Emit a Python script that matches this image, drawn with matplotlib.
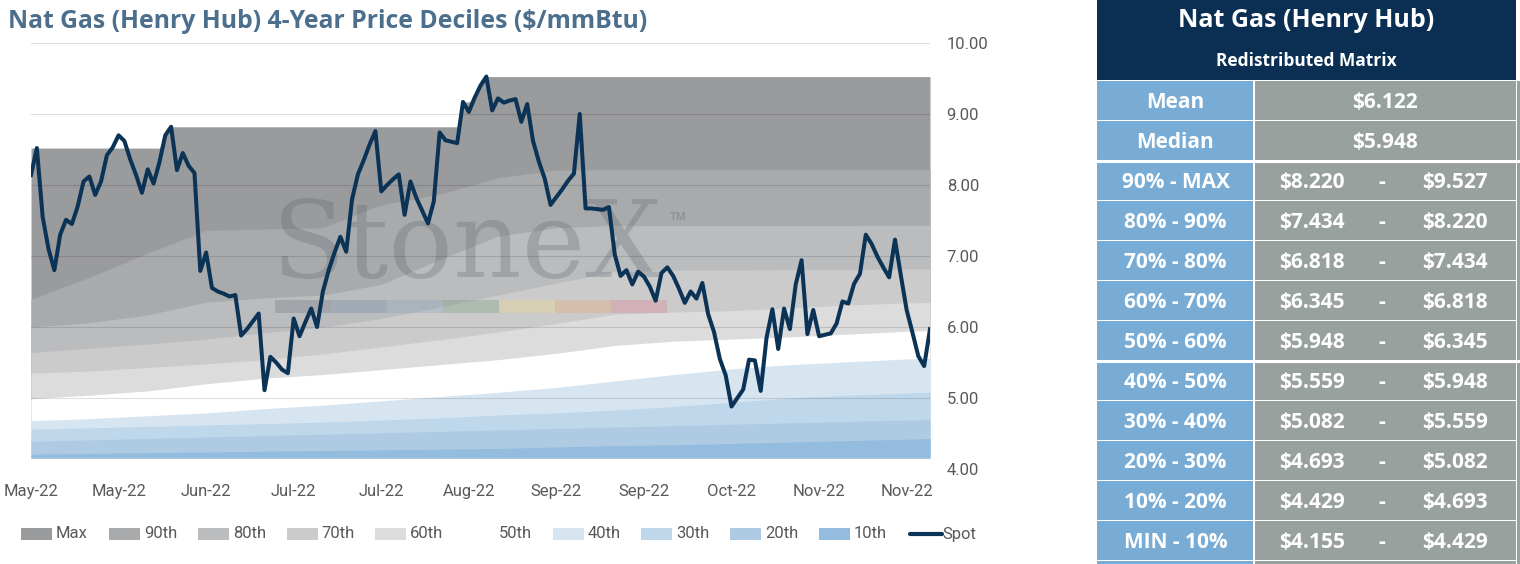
import matplotlib
matplotlib.use("Agg")
import matplotlib.pyplot as plt
import matplotlib.transforms as mtransforms
from matplotlib.lines import Line2D
from matplotlib.patches import Rectangle
import numpy as np

W, H = 1520, 564

# ---- data ----
spot = [
    8.14, 8.52, 7.55, 7.10, 6.80, 7.30, 7.51, 7.45, 7.70, 8.05,
    8.12, 7.86, 8.05, 8.42, 8.53, 8.70, 8.62, 8.36, 8.14, 7.89,
    8.22, 8.02, 8.32, 8.70, 8.82, 8.21, 8.45, 8.27, 8.17, 6.79,
    7.05, 6.55, 6.50, 6.47, 6.43, 6.45, 5.88, 5.97, 6.08, 6.19,
    5.11, 5.58, 5.50, 5.40, 5.35, 6.12, 5.87, 6.07, 6.26, 6.00,
    6.50, 6.80, 7.05, 7.27, 7.06, 7.80, 8.15, 8.35, 8.57, 8.76,
    7.91, 8.00, 8.08, 8.15, 7.58, 8.05, 7.82, 7.64, 7.46, 7.77,
    8.74, 8.63, 8.61, 8.59, 9.17, 9.03, 9.23, 9.40, 9.527, 9.05,
    9.22, 9.16, 9.19, 9.21, 8.89, 9.14, 8.62, 8.33, 8.09, 7.72,
    7.83, 7.94, 8.06, 8.16, 9.00, 7.67, 7.67, 7.66, 7.65, 7.69,
    7.02, 6.72, 6.80, 6.60, 6.78, 6.71, 6.57, 6.37, 6.76, 6.84,
    6.72, 6.54, 6.34, 6.50, 6.40, 6.62, 6.18, 5.93, 5.55, 5.32,
    4.88, 5.00, 5.12, 5.54, 5.53, 5.10, 5.85, 6.25, 5.69, 6.26,
    5.97, 6.60, 6.94, 5.90, 6.24, 5.87, 5.89, 5.91, 6.05, 6.36,
    6.33, 6.61, 6.75, 7.30, 7.17, 6.99, 6.84, 6.70, 7.23, 6.73,
    6.24, 5.92, 5.59, 5.45, 5.97,
]

# 4-year max (top of the Max band), one value per day
max_series = [8.52] * 23 + [8.70] + [8.82] * 50 + [9.17, 9.17, 9.23, 9.40] + [9.527] * 77
min_price = 4.155

# decile curves, sampled every 10 days
band_idx = [0, 10, 20, 30, 40, 50, 60, 70, 80, 90, 100, 110, 120, 130, 140, 150, 154]
p90 = [6.39, 6.70, 7.04, 7.36, 7.38, 7.40, 7.72, 7.87, 8.10, 8.21, 8.22, 8.22, 8.22, 8.22, 8.22, 8.22, 8.220]
p80 = [6.00, 6.06, 6.17, 6.35, 6.41, 6.45, 6.60, 6.95, 7.28, 7.40, 7.43, 7.43, 7.43, 7.43, 7.43, 7.434, 7.434]
p70 = [5.64, 5.70, 5.76, 5.83, 5.92, 6.00, 6.12, 6.28, 6.45, 6.62, 6.78, 6.80, 6.80, 6.81, 6.81, 6.818, 6.818]
p60 = [5.35, 5.38, 5.43, 5.48, 5.54, 5.62, 5.72, 5.82, 5.93, 6.05, 6.18, 6.21, 6.23, 6.27, 6.31, 6.34, 6.345]
p50 = [4.99, 5.04, 5.10, 5.20, 5.28, 5.33, 5.40, 5.47, 5.54, 5.63, 5.74, 5.80, 5.83, 5.86, 5.90, 5.94, 5.948]
p40 = [4.68, 4.71, 4.75, 4.79, 4.85, 4.90, 4.96, 5.02, 5.08, 5.15, 5.24, 5.33, 5.41, 5.47, 5.51, 5.55, 5.559]
p30 = [4.56, 4.58, 4.60, 4.62, 4.64, 4.66, 4.69, 4.72, 4.76, 4.79, 4.83, 4.88, 4.94, 5.00, 5.04, 5.07, 5.082]
p20 = [4.39, 4.41, 4.43, 4.45, 4.47, 4.49, 4.51, 4.53, 4.55, 4.57, 4.59, 4.61, 4.63, 4.65, 4.67, 4.69, 4.693]
p10 = [4.21, 4.22, 4.23, 4.24, 4.25, 4.26, 4.27, 4.28, 4.29, 4.31, 4.33, 4.34, 4.36, 4.38, 4.40, 4.42, 4.429]

x_labels = ["May-22", "May-22", "Jun-22", "Jul-22", "Jul-22", "Aug-22",
            "Sep-22", "Sep-22", "Oct-22", "Nov-22", "Nov-22"]
label_step = 15

legend_labels = ["Max", "90th", "80th", "70th", "60th", "50th",
                 "40th", "30th", "20th", "10th", "Spot"]
band_colors = ["#9a9b9d", "#a9aaac", "#bbbcbe", "#cbcbcc", "#dcdcdc", "#ffffff",
               "#d7e5f1", "#bed7ea", "#aecbe3", "#94bcdf"]
spot_color = "#0b3356"

table_title = "Nat Gas (Henry Hub)"
table_subtitle = "Redistributed Matrix"
mean_price = 6.122
median_price = 5.948
decile_labels = ["90% - MAX", "80% - 90%", "70% - 80%", "60% - 70%", "50% - 60%",
                 "40% - 50%", "30% - 40%", "20% - 30%", "10% - 20%", "MIN - 10%"]
decile_low = [8.220, 7.434, 6.818, 6.345, 5.948, 5.559, 5.082, 4.693, 4.429, 4.155]
decile_high = [9.527, 8.220, 7.434, 6.818, 6.345, 5.948, 5.559, 5.082, 4.693, 4.429]

plt.rcParams["font.family"] = ["Roboto", "DejaVu Sans"]
head_font = ["Open Sans", "DejaVu Sans"]

fig = plt.figure(figsize=(W / 100, H / 100), dpi=100)
# pixel coordinates measured from the top-left corner
px = mtransforms.Affine2D().scale(1 / W, -1 / H).translate(0, 1) + fig.transFigure

ax = fig.add_axes([31 / W, 95 / H, 899 / W, 426 / H])
days = np.arange(len(spot))

ax.fill_between(days, min_price, max_series, color=band_colors[0], lw=0, zorder=1)
for vals, color in zip([p90, p80, p70, p60, p50, p40, p30, p20, p10], band_colors[1:]):
    ax.fill_between(band_idx, min_price, vals, color=color, lw=0, zorder=1)

ax.plot(days, spot, color=spot_color, lw=2.9, zorder=3)

# StoneX watermark
ax.text(272, 277, "StoneX", transform=px, fontsize=77, family="DejaVu Serif",
        color="#56606b", alpha=0.27, va="baseline", zorder=2)
ax.text(670, 220, "TM", transform=px, fontsize=8, fontweight="bold",
        color="#56606b", alpha=0.3, va="baseline", zorder=2)
bar_colors = ["#6f7a85", "#6f8aa3", "#8aa5bd", "#6f9a78", "#eed980", "#eea56a", "#df7a8c"]
for k, c in enumerate(bar_colors):
    ax.add_patch(Rectangle((275 + 56 * k, 300), 56, 13, transform=px, color=c,
                           alpha=0.32, lw=0, zorder=2))

ax.set_xlim(0, len(spot) - 1)
ax.set_ylim(4, 10)
ax.set_yticks(np.arange(4, 10.01, 1))
ax.set_yticklabels([f"{v:.2f}" for v in np.arange(4, 10.01, 1)])
ax.yaxis.tick_right()
ax.set_xticks(days[::label_step], labels=x_labels)
ax.tick_params(axis="both", length=0, labelsize=12, labelcolor="#595959")
ax.tick_params(axis="y", pad=12)
ax.tick_params(axis="x", pad=11)
ax.grid(axis="y", color="black", alpha=0.13, lw=0.8)
ax.set_axisbelow(False)
for s in ax.spines.values():
    s.set_visible(False)

fig.text(8, 28.3, "Nat Gas (Henry Hub) 4-Year Price Deciles ($/mmBtu)", transform=px,
         fontsize=17.8, fontweight="bold", family=head_font, color="#4b6f8d", va="baseline")

# legend
for k, lab in enumerate(legend_labels):
    x0 = 20.5 + 88.7 * k
    if k < len(band_colors):
        fig.add_artist(Rectangle((x0, 528), 31, 12, transform=px,
                                 color=band_colors[k], lw=0))
    else:
        fig.add_artist(Line2D([x0 + 2, x0 + 34], [534, 534], transform=px,
                              color=spot_color, lw=3, solid_capstyle="round"))
    fig.text(x0 + 35, 534, lab, transform=px, fontsize=12, color="#595959", va="center")

# side table
navy, blue, grey = "#0a2f53", "#78acd5", "#99a19f"
tx0, tx1, tx2 = 1097, 1254, 1516
fig.add_artist(Rectangle((tx0, 0), tx2 - tx0, 80, transform=px, color=navy, lw=0))
fig.text((tx0 + tx2) / 2, 26.7, table_title, transform=px, fontsize=18, fontweight="bold",
         family=head_font, color="white", ha="center", va="baseline")
fig.text((tx0 + tx2) / 2, 66, table_subtitle, transform=px, fontsize=12.5, fontweight="bold",
         family=head_font, color="white", ha="center", va="baseline")

rows = [("Mean", f"${mean_price:.3f}", None), ("Median", f"${median_price:.3f}", None)]
rows += [(lab, f"${lo:.3f}", f"${hi:.3f}") for lab, lo, hi in zip(decile_labels, decile_low, decile_high)]
rows.append(("", "", None))
tfont = dict(transform=px, fontsize=15, fontweight="bold", family=head_font, color="white",
             va="baseline")
for k, (lab, v1, v2) in enumerate(rows):
    top = 80 + 40 * k
    fig.add_artist(Rectangle((tx0, top + 1), tx1 - tx0 - 1, 39, transform=px, color=blue, lw=0))
    fig.add_artist(Rectangle((tx1 + 0.5, top + 1), tx2 - tx1 - 0.5, 39, transform=px,
                             color=grey, lw=0))
    fig.add_artist(Rectangle((tx2 + 1, top + 1), 10, 40, transform=px, color=grey, lw=0))
    fig.text((tx0 + tx1) / 2, top + 28, lab, ha="center", **tfont)
    if v2 is None:
        fig.text((tx1 + tx2) / 2, top + 28, v1, ha="center", **tfont)
    else:
        fig.text(1312, top + 28, v1, ha="center", **tfont)
        fig.text(1382, top + 28, "-", ha="center", **tfont)
        fig.text(1455, top + 28, v2, ha="center", **tfont)
for ysep in (160.5, 360.5):
    fig.add_artist(Line2D([tx0, tx2 + 10], [ysep, ysep], transform=px, color="white", lw=2.2))

fig.savefig("out.png", dpi=100)
